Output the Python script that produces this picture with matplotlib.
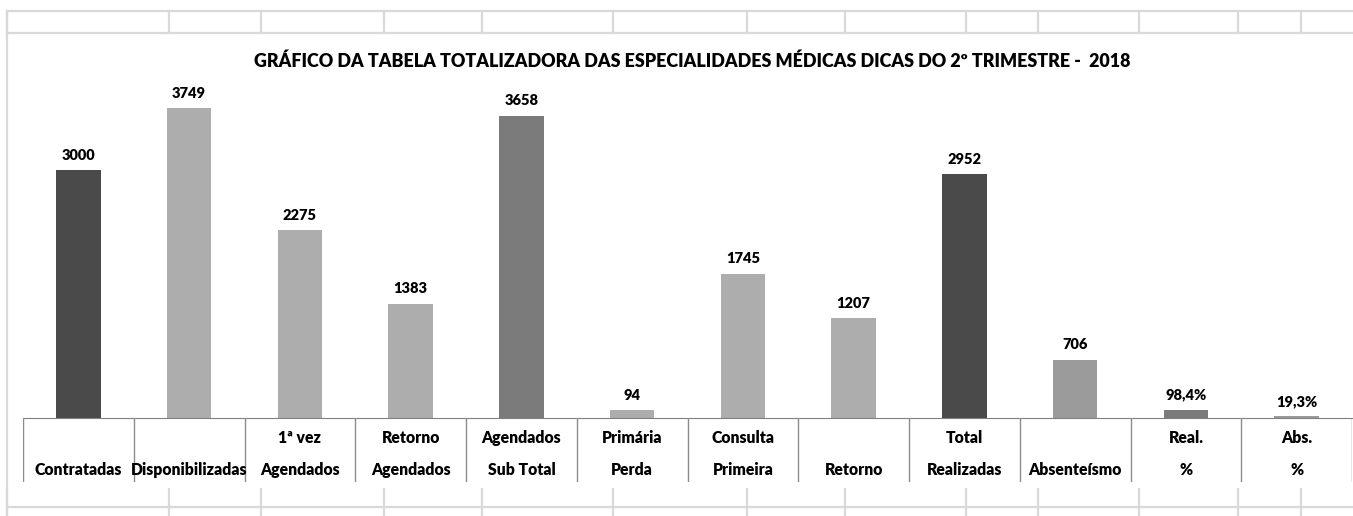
import matplotlib.pyplot as plt
from matplotlib.lines import Line2D

# Dados do gráfico
linha1 = ['', '', '1ª vez', 'Retorno', 'Agendados', 'Primária', 'Consulta', '',
          'Total', '', 'Real.', 'Abs.']
linha2 = ['Contratadas', 'Disponibilizadas', 'Agendados', 'Agendados', 'Sub Total',
          'Perda', 'Primeira', 'Retorno', 'Realizadas', 'Absenteísmo', '%', '%']
valores = [3000, 3749, 2275, 1383, 3658, 94, 1745, 1207, 2952, 706, 98.4, 19.3]
rotulos = ['3000', '3749', '2275', '1383', '3658', '94', '1745', '1207', '2952',
           '706', '98,4%', '19,3%']
cores = ['#4a4a4a', '#adadad', '#adadad', '#adadad', '#7b7b7b', '#adadad', '#adadad',
         '#adadad', '#4a4a4a', '#9b9b9b', '#7b7b7b', '#9b9b9b']

titulo = 'GRÁFICO DA TABELA TOTALIZADORA DAS ESPECIALIDADES MÉDICAS DICAS DO 2º TRIMESTRE -  2018'

W, H = 1353, 516
peso = 'heavy'
plt.rcParams['font.family'] = ['Lato', 'DejaVu Sans']

fig = plt.figure(figsize=(W / 100, H / 100), dpi=100)


def fx(px):
    return px / W


def fy(py):
    return 1 - py / H


grade = '#d9d9d9'
# linhas da planilha ao fundo
xs_grade = [7, 169, 261, 384, 482, 613, 747, 845, 966, 1038, 1139, 1238, 1301]
for y in (11, 33, 507):
    fig.add_artist(Line2D([fx(7), 1], [fy(y), fy(y)], color=grade, lw=1.6))
for x in xs_grade:
    fig.add_artist(Line2D([fx(x), fx(x)], [fy(11), fy(33)], color=grade, lw=1.6))
    fig.add_artist(Line2D([fx(x), fx(x)], [fy(489), 0], color=grade, lw=1.6))
fig.add_artist(Line2D([fx(7), fx(7)], [fy(11), 0], color=grade, lw=1.6))

# eixo principal
x0, x1 = 23, 1352
base, topo = 418, 80
px_por_unidade = 248 / 3000
ax = fig.add_axes([fx(x0), fy(base), fx(x1 - x0), (base - topo) / H])
ax.set_xlim(-0.5, len(valores) - 0.5)
ax.set_ylim(0, (base - topo) / px_por_unidade)
pos = range(len(valores))
barras = ax.bar(pos, valores, width=0.4, color=cores)
for b, r in zip(barras, rotulos):
    ax.annotate(r, (b.get_x() + b.get_width() / 2, b.get_height()),
                xytext=(0, 6), textcoords='offset points', ha='center', va='bottom',
                fontsize=10.5, fontweight=peso)
for s in ['top', 'right', 'left']:
    ax.spines[s].set_visible(False)
ax.spines['bottom'].set_color('#808080')
ax.set_xticks([])
ax.set_yticks([])
ax.patch.set_alpha(0)

# tabela de categorias abaixo do eixo
axt = fig.add_axes([fx(x0), fy(482), fx(x1 - x0), (482 - base) / H])
axt.set_xlim(-0.5, len(valores) - 0.5)
axt.set_ylim(482, base)
axt.axis('off')
for i in range(len(valores) + 1):
    axt.plot([i - 0.5, i - 0.5], [base, 482], color='#8c8c8c', lw=1)
for i in pos:
    axt.text(i, 438, linha1[i], ha='center', va='center', fontsize=11.3, fontweight=peso)
    axt.text(i, 470, linha2[i], ha='center', va='center', fontsize=11.3, fontweight=peso)

fig.text(fx(692), fy(61), titulo, ha='center', va='center', fontsize=12.9,
         fontweight=peso)

fig.savefig('out.png', dpi=100)
